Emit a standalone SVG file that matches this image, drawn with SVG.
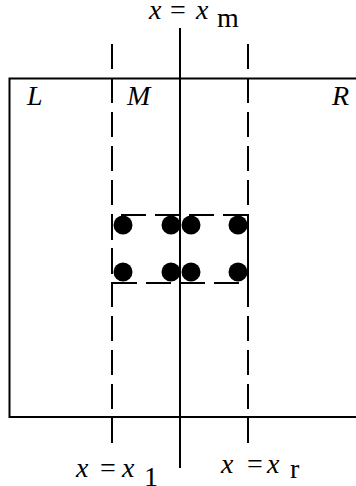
<svg xmlns="http://www.w3.org/2000/svg" width="356" height="486" viewBox="0 0 356 486">
<style>
.ln{fill:none;stroke:#000;stroke-width:2}
.dash{fill:none;stroke:#000;stroke-width:2;stroke-dasharray:25 9}
.t{font-family:"Liberation Serif","Times New Roman",serif;font-size:28px;fill:#000}
.i{font-style:italic}
.dot{fill:#000}
</style>
<g id="region">
<path class="ln" d="M362,78.5 H9.5 V417 H362"/>
<text class="t i" x="27" y="105">L</text>
<text class="t i" x="127" y="105">M</text>
<text class="t i" x="332" y="105">R</text>
</g>
<g id="connectors">
<line class="ln" x1="180" y1="28" x2="180" y2="468"/>
<line class="dash" x1="112" y1="44" x2="112" y2="446"/>
<line class="dash" x1="248" y1="44" x2="248" y2="446"/>
<path class="dash" d="M112,283 H248 V215 H112 Z"/>
</g>
<g id="particles">
<circle class="dot" cx="123" cy="225" r="9.5"/>
<circle class="dot" cx="171" cy="225" r="9.5"/>
<circle class="dot" cx="191" cy="225" r="9.5"/>
<circle class="dot" cx="238" cy="225" r="9.5"/>
<circle class="dot" cx="123" cy="272" r="9.5"/>
<circle class="dot" cx="171" cy="272" r="9.5"/>
<circle class="dot" cx="191" cy="272" r="9.5"/>
<circle class="dot" cx="238" cy="272" r="9.5"/>
</g>
<g id="label-xm">
<text class="t"><tspan class="i" x="149" y="19">x</tspan><tspan x="170" y="19">=</tspan><tspan class="i" x="196" y="19">x</tspan><tspan x="217" y="27">m</tspan></text>
</g>
<g id="label-xl">
<text class="t"><tspan class="i" x="76" y="477">x</tspan><tspan x="100" y="477">=</tspan><tspan class="i" x="122" y="477">x</tspan><tspan x="144" y="486">1</tspan></text>
</g>
<g id="label-xr">
<text class="t"><tspan class="i" x="221" y="473">x</tspan><tspan x="247" y="473">=</tspan><tspan class="i" x="267" y="473">x</tspan><tspan x="290" y="478">r</tspan></text>
</g>
</svg>
